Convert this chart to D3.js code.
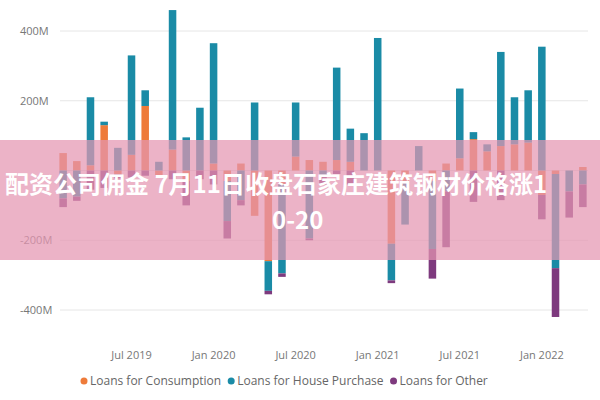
<!DOCTYPE html>
<html><head><meta charset="utf-8">
<script src="https://cdn.jsdelivr.net/npm/d3@7"></script>
<style>body{margin:0;background:#fff;font-family:"Open Sans",sans-serif}</style>
</head><body><svg id="chart" width="600" height="400"></svg>
<script>
// monthly, Feb 2019 .. Apr 2022
const months = d3.range(39).map(i => new Date(2019, 1 + i, 1));
const consumption = [50,27,15,130,-10,45,185,-20,60,-30,0,20,-30,20,-130,-260,-40,40,30,25,30,25,0,0,-210,-30,0,-30,20,35,90,55,70,75,80,-70,-10,0,10];
const housePurchase = [-80,-75,195,10,65,285,45,25,400,95,180,345,-115,-85,195,-85,-255,155,-195,-15,265,95,107,380,-105,-125,70,-195,-60,200,20,20,270,135,150,355,-270,-60,-40];
const other = [-25,-12,-55,-50,-13,-20,-15,0,-25,-70,-25,-40,-50,-15,0,-10,-10,0,-5,-25,-10,-40,0,0,-8,0,0,-85,-160,0,-90,0,-85,0,0,-70,-140,-75,-65];
const seriesNames = ['Loans for Consumption', 'Loans for House Purchase', 'Loans for Other'];
const colors = ['#EE7B3A', '#1A8BA6', '#7E3A7E'];
const yTicks = [-400, -200, 0, 200, 400];

const svg = d3.select('#chart');
const x = d3.scaleBand()
  .domain(months.map((d, i) => i))
  .range([58, 588]).paddingInner(0.45).paddingOuter(0.1);
const y = d3.scaleLinear().domain([-400, 400]).range([310, 31]);

// gridlines + y labels
svg.append('g').selectAll('line').data(yTicks).join('line')
  .attr('x1', 60).attr('x2', 588)
  .attr('y1', d => y(d)).attr('y2', d => y(d))
  .attr('stroke', '#e6e6e6');
svg.append('g').selectAll('text').data(yTicks.filter(d => d !== 0)).join('text')
  .attr('x', 20).attr('y', d => y(d) + 4)
  .attr('font-size', 11).attr('fill', '#777')
  .text(d => d + 'M');

// stacked bars
const rows = months.map((m, i) => ({i, c: consumption[i], h: housePurchase[i], o: other[i]}));
const stack = d3.stack().keys(['c', 'h', 'o']).offset(d3.stackOffsetDiverging);
svg.append('g').selectAll('g').data(stack(rows)).join('g')
  .attr('fill', (d, k) => colors[k])
  .selectAll('rect').data(d => d).join('rect')
  .attr('x', d => x(d.data.i))
  .attr('width', x.bandwidth())
  .attr('y', d => y(Math.max(d[0], d[1])))
  .attr('height', d => Math.abs(y(d[0]) - y(d[1])));

// x axis labels
const xLabels = [[5, 'Jul 2019'], [11, 'Jan 2020'], [17, 'Jul 2020'], [23, 'Jan 2021'], [29, 'Jul 2021'], [35, 'Jan 2022']];
svg.append('g').selectAll('text').data(xLabels).join('text')
  .attr('x', d => x(d[0]) + x.bandwidth() / 2).attr('y', 359)
  .attr('text-anchor', 'middle').attr('font-size', 11).attr('fill', '#777')
  .text(d => d[1]);

// legend
const legend = svg.append('g').attr('transform', 'translate(84,381)');
let lx = 0;
seriesNames.forEach((name, k) => {
  legend.append('circle').attr('cx', lx).attr('cy', 0).attr('r', 3.5).attr('fill', colors[k]);
  const t = legend.append('text').attr('x', lx + 6).attr('y', 4)
    .attr('font-size', 12).attr('fill', '#666').text(name);
  lx += t.node().getComputedTextLength() + 16;
});

// overlay band with title
svg.append('rect').attr('x', 0).attr('y', 140).attr('width', 600).attr('height', 120)
  .attr('fill', 'rgb(228,150,178)').attr('opacity', 0.72);
const title = svg.append('text').attr('font-family', '"Noto Sans CJK SC", sans-serif')
  .attr('font-size', 24).attr('font-weight', 'bold').attr('fill', '#fff');
title.append('tspan').attr('x', 5).attr('y', 193).text('配资公司佣金 7月11日收盘石家庄建筑钢材价格涨1');
title.append('tspan').attr('x', 272).attr('y', 229).text('0-20');
</script></body></html>
